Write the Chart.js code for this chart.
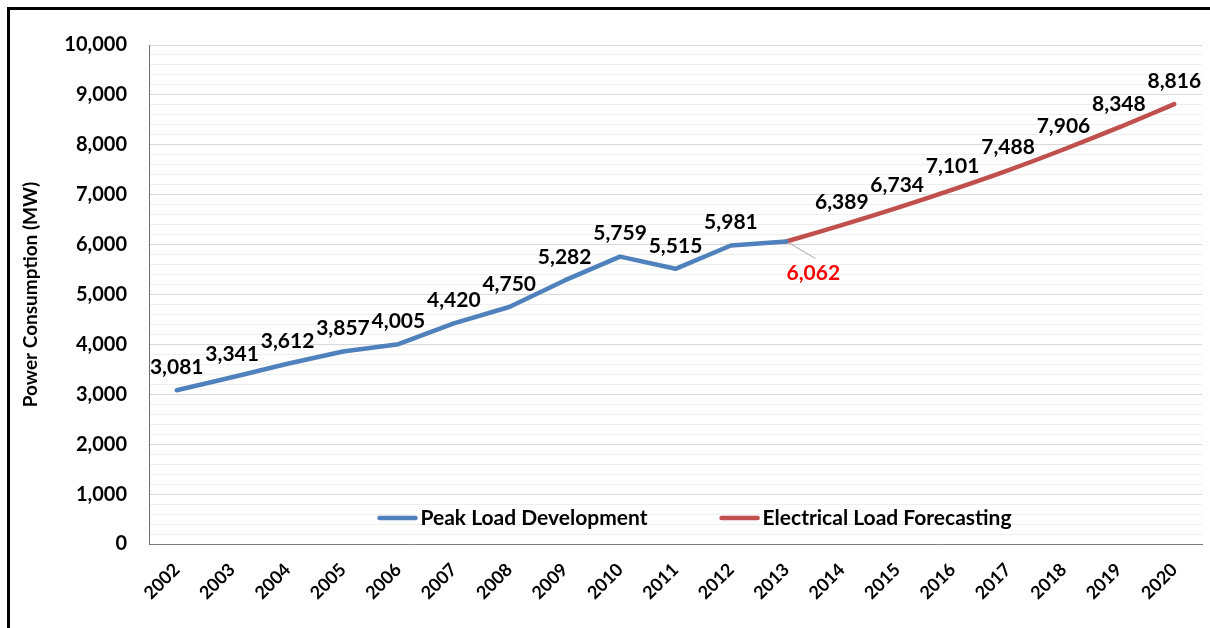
<!DOCTYPE html>
<html><head><meta charset="utf-8">
<script src="https://cdn.jsdelivr.net/npm/chart.js@4.4.0/dist/chart.umd.min.js"></script>
<style>html,body{margin:0;padding:0;background:#fff;overflow:hidden}#wrap{width:1210px;height:628px;position:relative}</style>
</head><body><div id="wrap"><canvas id="c" width="1210" height="628"></canvas></div>
<script>
const years = ['2002','2003','2004','2005','2006','2007','2008','2009','2010','2011','2012','2013','2014','2015','2016','2017','2018','2019','2020'];
const peakLoad = [3081,3341,3612,3857,4005,4420,4750,5282,5759,5515,5981,6062,null,null,null,null,null,null,null];
const forecast = [null,null,null,null,null,null,null,null,null,null,null,6062,6389,6734,7101,7488,7906,8348,8816];
const seriesNames = ['Peak Load Development','Electrical Load Forecasting'];
const handoffYear = '2013';
const yMin = 0, yMax = 10000, yMajorStep = 1000, yMinorStep = 200;

const BLUE = '#4F81BD', RED = '#C0504D';
const FONT = 'Lato, "Open Sans", sans-serif';
const fmt = v => v.toLocaleString('en-US');

const framePlugin = {
  id: 'frame',
  beforeDraw(chart) {
    const ctx = chart.ctx;
    ctx.save();
    ctx.fillStyle = '#fff';
    ctx.fillRect(0, 0, chart.width, chart.height);
    ctx.fillStyle = '#000';
    ctx.fillRect(7, 7, 3, chart.height - 7);
    ctx.fillRect(7, 7, chart.width - 7, 3);
    ctx.restore();
  }
};

const labelPlugin = {
  id: 'valueLabels',
  afterDatasetsDraw(chart) {
    const ctx = chart.ctx;
    const hIdx = years.indexOf(handoffYear);
    ctx.save();
    ctx.font = 'bold 21px ' + FONT;
    ctx.textAlign = 'center';
    ctx.textBaseline = 'middle';
    chart.data.datasets.forEach((ds, di) => {
      const meta = chart.getDatasetMeta(di);
      ds.data.forEach((v, i) => {
        if (v === null) return;
        const pt = meta.data[i];
        if (i === hIdx) {
          if (di !== 0) return;
          ctx.strokeStyle = '#a6a6a6';
          ctx.lineWidth = 1;
          ctx.beginPath();
          ctx.moveTo(pt.x + 2, pt.y + 1);
          ctx.lineTo(pt.x + 29, pt.y + 17);
          ctx.stroke();
          ctx.fillStyle = '#FF0000';
          ctx.fillText(fmt(v), pt.x + 27, pt.y + 32);
          return;
        }
        ctx.fillStyle = '#000';
        ctx.fillText(fmt(v), pt.x, pt.y - 23);
      });
    });
    ctx.restore();
  }
};

const legendPlugin = {
  id: 'innerLegend',
  afterDraw(chart) {
    const ctx = chart.ctx;
    const area = chart.chartArea;
    ctx.save();
    ctx.font = 'bold 21px ' + FONT;
    ctx.textBaseline = 'middle';
    ctx.textAlign = 'left';
    const sample = 40, gapText = 3, gapItems = 72;
    const widths = chart.data.datasets.map(d => sample + gapText + ctx.measureText(d.label).width);
    const total = widths.reduce((a, b) => a + b, 0) + gapItems * (widths.length - 1);
    let x = (area.left + area.right) / 2 + 19 - total / 2;
    const y = area.bottom - 26;
    chart.data.datasets.forEach((d, i) => {
      ctx.strokeStyle = d.borderColor;
      ctx.lineWidth = 4.5;
      ctx.lineCap = 'round';
      ctx.beginPath();
      ctx.moveTo(x + 2, y);
      ctx.lineTo(x + sample - 2, y);
      ctx.stroke();
      ctx.fillStyle = '#000';
      ctx.fillText(d.label, x + sample + gapText, y);
      x += widths[i] + gapItems;
    });
    ctx.restore();
  }
};

new Chart(document.getElementById('c'), {
  type: 'line',
  data: {
    labels: years,
    datasets: [
      { label: seriesNames[0], data: peakLoad, borderColor: BLUE, backgroundColor: BLUE,
        borderWidth: 4.5, pointRadius: 0, tension: 0, borderCapStyle: 'round', borderJoinStyle: 'round', spanGaps: false },
      { label: seriesNames[1], data: forecast, borderColor: RED, backgroundColor: RED,
        borderWidth: 4.5, pointRadius: 0, tension: 0.3, borderCapStyle: 'round', borderJoinStyle: 'round', spanGaps: false }
    ]
  },
  options: {
    responsive: false,
    animation: false,
    devicePixelRatio: 1,
    layout: { padding: { left: 0, top: 45, right: 8, bottom: 0 } },
    plugins: { legend: { display: false }, tooltip: { enabled: false } },
    scales: {
      x: {
        type: 'category',
        offset: true,
        grid: { display: false, drawTicks: false },
        border: { display: true, color: '#7f7f7f', width: 1 },
        ticks: { color: '#000', font: { family: FONT, size: 18, weight: 'bold' },
                 minRotation: 45, maxRotation: 45, autoSkip: false, padding: 15 },
        afterFit(s) { s.height = 84; }
      },
      y: {
        min: yMin, max: yMax,
        grid: {
          drawTicks: false,
          color: c => (c.tick && c.tick.value % yMajorStep === 0) ? '#d9d9d9' : '#efefef',
          lineWidth: 1
        },
        border: { display: true, color: '#6e6e6e', width: 1 },
        ticks: {
          stepSize: yMinorStep, maxTicksLimit: 100, autoSkip: false,
          color: '#000', font: { family: FONT, size: 20, weight: 'bold' }, padding: 22,
          callback: v => (v % yMajorStep === 0) ? fmt(v) : ''
        },
        title: { display: true, text: 'Power Consumption (MW)', color: '#000',
                 font: { family: FONT, size: 19, weight: 'bold' }, padding: { top: 19, bottom: 0 } },
        afterFit(s) { s.width = 149; }
      }
    }
  },
  plugins: [framePlugin, labelPlugin, legendPlugin]
});
</script>
</body></html>
